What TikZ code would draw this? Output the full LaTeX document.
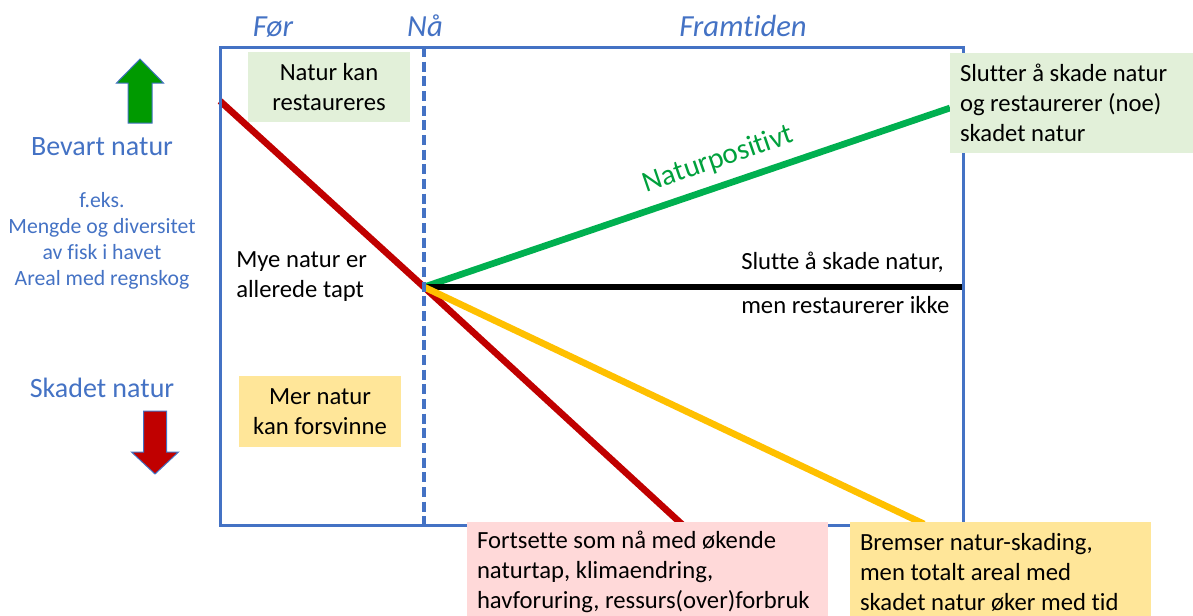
\documentclass[tikz,border=0pt]{standalone}
\usepackage{fontspec}
\setmainfont[Ligatures=NoCommon]{Carlito}
\usetikzlibrary{calc}
\definecolor{frameblue}{HTML}{4472C4}
\definecolor{lossred}{HTML}{C00000}
\definecolor{posgreen}{HTML}{00B050}
\definecolor{slowyellow}{HTML}{FFC000}
\definecolor{greenbox}{HTML}{E2F0D9}
\definecolor{yellowbox}{HTML}{FFE699}
\definecolor{pinkbox}{HTML}{FFD9D9}
\definecolor{arrowgreen}{HTML}{009A00}
\definecolor{textgreen}{HTML}{00A03C}

\begin{document}
\begin{tikzpicture}[x=0.75pt,y=-0.75pt,
 lbl/.style={font=\fontsize{18.5}{22.5}\selectfont, inner sep=0pt},
 bluelbl/.style={text=frameblue, font=\fontsize{21}{25}\selectfont, anchor=base},
 smallblue/.style={text=frameblue, font=\fontsize{16.3}{19}\selectfont, anchor=base},
 toplbl/.style={text=frameblue, font=\fontsize{23}{27}\selectfont\itshape, anchor=base},
 infobox/.style={lbl, inner xsep=7.5pt, inner ysep=0pt, align=left,
   execute at begin node={\spaceskip=0pt\xspaceskip=0pt}},
 trend/.style={line width=5pt}]
\useasboundingbox (0,0) rectangle (1193,615);

\coordinate (tl) at (220,47);
\coordinate (br) at (963,525);
\coordinate (natop) at (424,47);
\coordinate (nabot) at (424,525);
\coordinate (now) at (424,287);
\coordinate (redtop) at (220,101);
\coordinate (redend) at (686,528);
\coordinate (greenend) at (950,108);
\coordinate (yellowend) at (924,524);

\draw[lossred, trend] (redtop) -- (now) -- (redend);
\draw[posgreen, trend] (now) -- (greenend);
\draw[black, line width=4.5pt] (now) -- (now -| br);
\draw[slowyellow, trend] (now) -- (yellowend);

\draw[frameblue, line width=2.25pt] (tl) rectangle (br);
\draw[frameblue, line width=2.6pt, dash pattern=on 7.5pt off 3.5pt] (natop) -- (nabot);

\node[toplbl] (foer) at (273,36) {Før};
\node[toplbl] (naa) at (425,36) {Nå};
\node[toplbl] (framtid) at (743,36) {Framtiden};

\node[bluelbl] (bevart) at (102,155) {Bevart natur};
\node[bluelbl] (skadet) at (102,397) {Skadet natur};
\foreach \txt [count=\i] in {f.eks., Mengde og diversitet, av fisk i havet, Areal med regnskog}
 \node[smallblue] (eks\i) at (102,{181+26*\i}) {\txt};

\draw[frameblue, line width=0.75pt, fill=arrowgreen] (128,123) -- (128,83) -- (116.5,83) -- (140,59) -- (163.5,83) -- (152,83) -- (152,123) -- cycle;
\draw[frameblue, line width=0.75pt, fill=lossred] (143.5,411) -- (166.5,411) -- (166.5,452) -- (178.5,452) -- (155,474) -- (131.5,452) -- (143.5,452) -- cycle;

\node[lbl, fill=greenbox, minimum width=121.5pt, minimum height=52.5pt, align=center] (kanrest) at (329,87) {Natur kan\\restaureres};
\node[lbl, fill=yellowbox, minimum width=121.5pt, minimum height=53.25pt, align=center] (forsvinne) at (320,411.5) {Mer natur\\kan forsvinne};
\node[lbl, anchor=west, align=left] (tapt) at (236,277) {Mye natur er\\allerede tapt};

\node[lbl, anchor=base west] (slutte) at (741,269) {Slutte å skade natur,};
\node[lbl, anchor=base west] (ikke) at (741,313) {men restaurerer ikke};
\node[anchor=base, rotate=19, text=textgreen, font=\fontsize{22}{26}\selectfont, inner sep=0pt] (natpos) at (721,167) {Naturpositivt};

\node[infobox, fill=greenbox, text width=167.25pt, minimum height=75pt] (slutter) at (1071.5,103) {Slutter å skade natur\\og restaurerer (noe)\\skadet natur};
\node[infobox, fill=pinkbox, text width=255.75pt, minimum height=75.75pt] (fortsette) at (647.5,572) {Fortsette som nå med økende\\naturtap, klimaendring,\\havforuring, ressurs(over)forbruk};
\node[infobox, fill=yellowbox, text width=210.75pt, minimum height=75.75pt] (bremser) at (1000.5,572) {Bremser natur-skading,\\men totalt areal med\\skadet natur øker med tid};
\end{tikzpicture}
\end{document}
